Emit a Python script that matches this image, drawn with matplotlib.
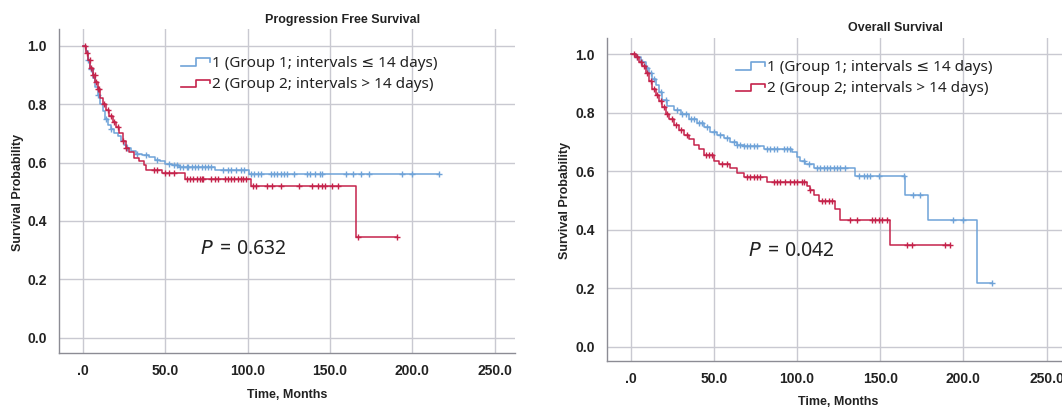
import numpy as np
import matplotlib
matplotlib.use("Agg")
import matplotlib.pyplot as plt
from matplotlib.lines import Line2D
from matplotlib.legend_handler import HandlerBase

# Progression free survival: step change points (months, survival)
pfs_g1_time = [0, 1.5, 3, 4.5, 6, 7.5, 9, 10.5, 12, 13.5, 15, 17, 19, 21, 23, 25, 27, 29, 32, 36, 40, 44, 47, 50, 54, 58, 80, 101]
pfs_g1_surv = [1.0, 0.98, 0.95, 0.92, 0.89, 0.86, 0.83, 0.80, 0.775, 0.75, 0.73, 0.715, 0.70, 0.69, 0.675, 0.66, 0.65, 0.64, 0.63, 0.625, 0.62, 0.61, 0.605, 0.595, 0.59, 0.585, 0.575, 0.56]
pfs_g1_cens = [3, 5, 9, 14, 17, 27, 33, 38, 45, 52, 55, 57, 59, 61, 63, 64, 66, 68, 70, 72, 74, 76, 78, 85, 88, 90,
               93, 96, 98, 102, 104, 106, 108, 114, 116, 118, 120, 122, 124, 128, 136, 138, 141, 144, 145, 160, 164,
               169, 174, 194, 200, 216]

pfs_g2_time = [0, 1.5, 3, 4.5, 6, 7.5, 9, 10.5, 12, 14, 16, 18, 20, 22, 24, 26, 28, 31, 34, 37, 38.5, 48, 62, 102, 166]
pfs_g2_surv = [1.0, 0.975, 0.95, 0.925, 0.90, 0.875, 0.85, 0.82, 0.80, 0.78, 0.76, 0.74, 0.72, 0.70, 0.675, 0.65, 0.635, 0.615, 0.605, 0.59, 0.574, 0.563, 0.544, 0.52, 0.346]
pfs_g2_cens = [1, 2.5, 4, 5, 6, 7, 8, 9, 10, 13, 15, 17, 19, 21, 24, 26, 43, 45, 50, 52, 55, 63, 65, 67, 69, 71, 72, 73,
               78, 80, 82, 86, 88, 90, 92, 94, 96, 97, 99, 103, 105, 112, 115, 120, 131, 139, 143, 145, 147, 151, 155,
               167, 191]

# Overall survival
os_g1_time = [0, 3, 6, 9, 11, 13, 15, 17, 19, 22, 26, 30, 35, 40, 44, 48, 52, 56, 60, 64, 68, 80, 97, 100, 102, 105, 110, 135, 165, 179, 208]
os_g1_surv = [1.0, 0.99, 0.975, 0.955, 0.935, 0.915, 0.895, 0.87, 0.845, 0.825, 0.81, 0.795, 0.78, 0.765, 0.752, 0.735, 0.725, 0.715, 0.70, 0.69, 0.685, 0.677, 0.665, 0.65, 0.635, 0.625, 0.612, 0.585, 0.519, 0.433, 0.219]
os_g1_cens = [4, 7, 10, 12, 14, 18, 21, 28, 31, 33, 36, 38, 41, 43, 46, 50, 54, 58, 62, 64, 66, 68, 70, 72, 74, 76, 82,
              84, 86, 88, 92, 94, 96, 104, 107, 112, 114, 116, 118, 120, 122, 124, 126, 129, 137, 140, 142, 144, 149,
              164, 170, 174, 194, 200, 217]

os_g2_time = [0, 3, 5, 7, 9, 11, 13, 15, 17, 19, 21, 23, 26, 29, 32, 35, 38, 41, 44, 50, 53, 60, 64, 68, 82, 106, 108, 110, 113, 123, 126, 156]
os_g2_surv = [1.0, 0.99, 0.975, 0.96, 0.935, 0.91, 0.88, 0.86, 0.84, 0.82, 0.795, 0.78, 0.76, 0.74, 0.725, 0.71, 0.69, 0.675, 0.655, 0.635, 0.625, 0.61, 0.595, 0.58, 0.565, 0.55, 0.535, 0.52, 0.50, 0.47, 0.435, 0.347]
os_g2_cens = [2, 4, 6, 8, 10, 12, 14, 16, 18, 20, 22, 25, 27, 30, 34, 45, 47, 49, 55, 58, 70, 72, 74, 76, 78, 86, 88,
              90, 93, 96, 98, 100, 103, 104, 108, 115, 117, 119, 121, 132, 136, 145, 147, 149, 151, 154, 166, 169,
              189, 192]

group_labels = ["1 (Group 1; intervals \u2264 14 days)", "2 (Group 2; intervals > 14 days)"]
xticks = [0, 50, 100, 150, 200, 250]
xtick_labels = [".0", "50.0", "100.0", "150.0", "200.0", "250.0"]
yticks = [0.0, 0.2, 0.4, 0.6, 0.8, 1.0]

BLUE = "#6fa3d8"
RED = "#c5234b"
GRID = "#c9c9d1"
TXT = "#222222"

plt.rcParams['font.family'] = ['Liberation Sans', 'DejaVu Sans']


class StepHandler(HandlerBase):
    # small step icon like the SPSS legend
    def create_artists(self, legend, orig_handle, xdescent, ydescent, width, height, fontsize, trans):
        x = np.array([0, 0.5, 0.5, 1, 1]) * width - xdescent
        y = np.array([0.1, 0.1, 0.8, 0.8, 0.45]) * height - ydescent
        ln = Line2D(x, y, color=orig_handle.get_color(), lw=1.2, transform=trans)
        return [ln]


def km(ax, t, s, cens, color):
    end = max(cens[-1], t[-1])
    ax.step(list(t) + [end], list(s) + [s[-1]], where='post', color=color, lw=1.1)
    idx = np.searchsorted(t, cens, side='right') - 1
    cy = np.array(s)[idx]
    ax.plot(cens, cy, ls='none', marker='+', ms=5, mew=1.0, color=color)


fig = plt.figure(figsize=(10.62, 4.07), dpi=100)
W, H = 1062.0, 407.0


def setup(ax, xlim, ylim):
    ax.set_xlim(*xlim)
    ax.set_ylim(*ylim)
    ax.set_xticks(xticks)
    ax.set_xticklabels(xtick_labels)
    ax.set_yticks(yticks)
    ax.set_yticklabels([f"{v:.1f}" for v in yticks])
    ax.grid(True, color=GRID, lw=1.0)
    ax.set_axisbelow(True)
    for sp in ['top', 'right']:
        ax.spines[sp].set_visible(False)
    for sp in ['left', 'bottom']:
        ax.spines[sp].set_color('#8c8c94')
        ax.spines[sp].set_linewidth(1.0)
    ax.tick_params(length=0, labelsize=10, colors=TXT)
    ax.tick_params(axis='y', pad=9)
    ax.tick_params(axis='x', pad=8)
    for lb in ax.get_xticklabels() + ax.get_yticklabels():
        lb.set_fontweight('bold')


# panel 1
ax1 = fig.add_axes([59 / W, 1 - 353 / H, (515 - 59) / W, (353 - 29) / H])
setup(ax1, (-14.6, 262.4), (-0.052, 1.057))
km(ax1, pfs_g1_time, pfs_g1_surv, pfs_g1_cens, BLUE)
km(ax1, pfs_g2_time, pfs_g2_surv, pfs_g2_cens, RED)

# panel 2
ax2 = fig.add_axes([607 / W, 1 - 361 / H, 460.4 / W, (361 - 37.7) / H])
setup(ax2, (-14.2, 262.5), (-0.049, 1.057))
km(ax2, os_g1_time, os_g1_surv, os_g1_cens, BLUE)
km(ax2, os_g2_time, os_g2_surv, os_g2_cens, RED)

handles = [Line2D([], [], color=BLUE), Line2D([], [], color=RED)]
for ax, (lx, ly) in [(ax1, (181, 56)), (ax2, (736, 60))]:
    inv = ax.transAxes.inverted()
    ax_pt = inv.transform(fig.transFigure.transform((lx / W, 1 - ly / H)))
    ax.legend(handles, group_labels, handler_map={Line2D: StepHandler()},
              loc='upper left', bbox_to_anchor=tuple(ax_pt), frameon=False,
              prop={'family': ['Noto Sans', 'DejaVu Sans'], 'size': 11},
              handlelength=1.9, handletextpad=0.12, labelspacing=0.4, borderpad=0, borderaxespad=0,
              labelcolor=TXT)

# titles, axis labels, p values
fig.text(343 / W, 1 - 20 / H, "Progression Free Survival", ha='center', va='center', fontsize=9, fontweight='bold', color=TXT)
fig.text(895 / W, 1 - 27.7 / H, "Overall Survival", ha='center', va='center', fontsize=9, fontweight='bold', color=TXT)
fig.text(18 / W, 1 - 192 / H, "Survival Probability", rotation=90, ha='center', va='center', fontsize=9, fontweight='bold', color=TXT)
fig.text(565 / W, 1 - 200 / H, "Survival Probability", rotation=90, ha='center', va='center', fontsize=9, fontweight='bold', color=TXT)
fig.text(287 / W, 1 - 395 / H, "Time, Months", ha='center', va='center', fontsize=9, fontweight='bold', color=TXT)
fig.text(838 / W, 1 - 402 / H, "Time, Months", ha='center', va='center', fontsize=9, fontweight='bold', color=TXT)

pfont = ['Noto Sans', 'DejaVu Sans']
fig.text(200 / W, 1 - 249 / H, "$\\it{P}\\,$ = 0.632", ha='left', va='center', fontsize=14, color=TXT, family=pfont)
fig.text(748 / W, 1 - 251 / H, "$\\it{P}\\,$ = 0.042", ha='left', va='center', fontsize=14, color=TXT, family=pfont)

fig.savefig("out.png", dpi=100)
